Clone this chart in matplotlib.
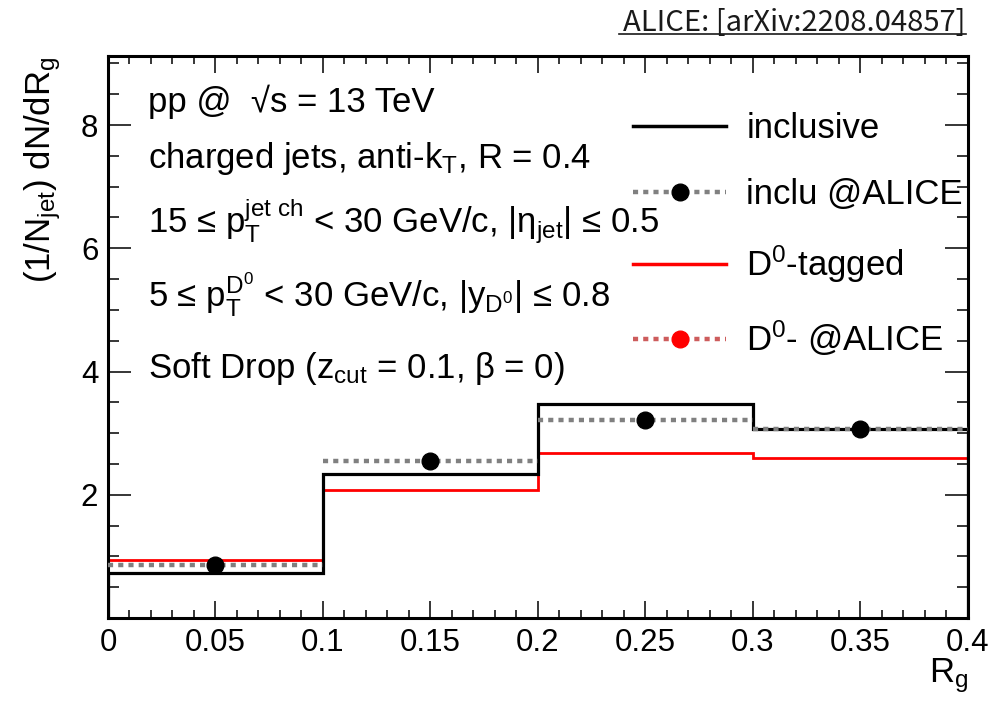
import matplotlib
matplotlib.use('Agg')
import matplotlib.pyplot as plt
from matplotlib.lines import Line2D
from matplotlib.ticker import MultipleLocator, FuncFormatter

plt.rcParams['font.family'] = ['Liberation Sans', 'DejaVu Sans']
plt.rcParams['mathtext.fontset'] = 'custom'
plt.rcParams['mathtext.rm'] = 'Liberation Sans'
plt.rcParams['mathtext.it'] = 'Liberation Sans'
plt.rcParams['mathtext.default'] = 'regular'

# R_g binning and histogram contents
edges = [0.0, 0.1, 0.2, 0.3, 0.4]
centers = [0.05, 0.15, 0.25, 0.35]
inclusive = [0.73, 2.34, 3.48, 3.06]
d0_tagged = [0.94, 2.08, 2.67, 2.60]
incl_alice = [0.86, 2.55, 3.21, 3.07]

xticks = [0, 0.05, 0.1, 0.15, 0.2, 0.25, 0.3, 0.35, 0.4]
yticks = [2, 4, 6, 8]

W, H = 1003, 704
def fx(x):
    return x / W
def fy(y):
    return 1 - y / H

dotted = (0, (1.15, 1.15))

fig = plt.figure(figsize=(W / 100, H / 100), dpi=100)
ax = fig.add_axes([fx(108), fy(618), (968 - 108) / W, (618 - 56) / H])

ax.stairs(d0_tagged, edges, baseline=None, color='#ff0000', lw=2.0, zorder=2)
ax.stairs(inclusive, edges, baseline=0, color='black', lw=2.3, zorder=3)
ax.hlines(incl_alice, edges[:-1], edges[1:], colors='#808080', lw=3.2,
          linestyles=dotted, zorder=4, clip_on=False)
ax.plot(centers, incl_alice, 'o', color='black', ms=12, zorder=5)

ax.set_xlim(0, 0.4)
ax.set_ylim(0, 9.12)
ax.set_xticks(xticks)
ax.xaxis.set_major_formatter(FuncFormatter(lambda v, p: '{:g}'.format(v)))
ax.xaxis.set_minor_locator(MultipleLocator(0.01))
ax.set_yticks(yticks)
ax.yaxis.set_minor_locator(MultipleLocator(0.5))

ax.tick_params(which='both', direction='in', top=True, right=True, width=1.1,
               labelsize=22.5)
ax.tick_params(axis='x', which='major', length=12.5, pad=7)
ax.tick_params(axis='x', which='minor', length=6)
ax.tick_params(axis='y', which='major', length=16.5, pad=7)
ax.tick_params(axis='y', which='minor', length=8)
for s in ax.spines.values():
    s.set_linewidth(2.2)

ax.set_ylabel('(1/N$_{jet}$) dN/dR$_{g}$', fontsize=25, loc='top')
ax.yaxis.set_label_coords(-0.052, 1.0)
ax.set_xlabel('R$_{g}$', fontsize=25, loc='right')
ax.xaxis.set_label_coords(1.0, -0.068)

# selection / kinematics annotations
lines = [
    ('pp @  \u221as = 13 TeV', 112),
    ('charged jets, anti-k$_{T}$, R = 0.4', 168),
    ('15 \u2264 p$_{T}^{jet\\ ch}$ < 30 GeV/c, |\u03b7$_{jet}$| \u2264 0.5', 233),
    ('5 \u2264 p$_{T}^{D^{0}}$ < 30 GeV/c, |y$_{D^{0}}$| \u2264 0.8', 307),
    ('Soft Drop (z$_{cut}$ = 0.1, \u03b2 = 0)', 378),
]
for txt, yb in lines:
    fig.text(fx(148), fy(yb), txt, fontsize=25, va='baseline', ha='left')

handles = [
    Line2D([], [], color='black', lw=2.5),
    Line2D([], [], color='#808080', lw=3.2, ls=dotted,
           marker='o', mfc='black', mec='black', ms=12),
    Line2D([], [], color='#ff0000', lw=2.5),
    Line2D([], [], color='#cd5c5c', lw=3.2, ls=dotted,
           marker='o', mfc='#ff0000', mec='#ff0000', ms=12),
]
labels = ['inclusive', 'inclu @ALICE', 'D$^{0}$-tagged', 'D$^{0}$- @ALICE']
fig.legend(handles, labels, loc='upper left',
           bbox_to_anchor=(fx(633), fy(112)), frameon=False, fontsize=25,
           borderpad=0, borderaxespad=0, handlelength=2.69,
           handletextpad=0.57, labelspacing=0.95, numpoints=1)

fig.text(fx(966), fy(31), 'ALICE: [arXiv:2208.04857]', fontsize=21,
         ha='right', va='baseline', color='#1a1a1a',
         family=['Noto Sans CJK SC', 'DejaVu Sans'])
fig.add_artist(Line2D([fx(619), fx(966)], [fy(34), fy(34)], color='#1a1a1a',
                      lw=1.2, transform=fig.transFigure))

fig.savefig('out.png', dpi=100)
